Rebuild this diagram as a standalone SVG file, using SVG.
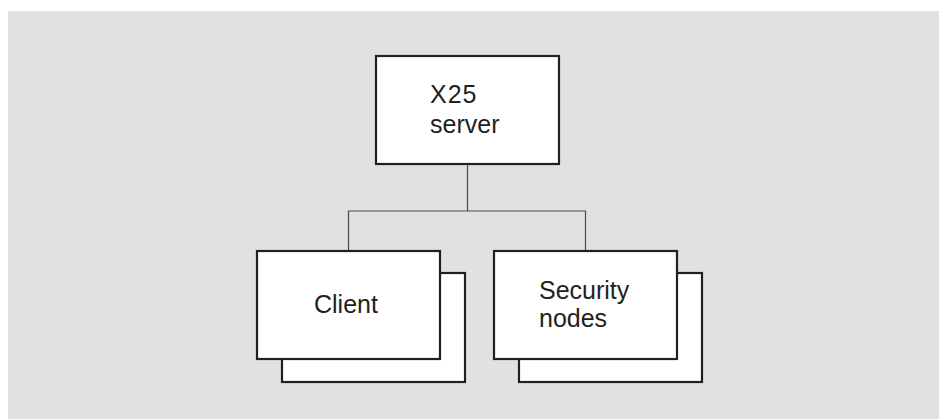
<svg xmlns="http://www.w3.org/2000/svg" width="939" height="419" viewBox="0 0 939 419">
<style>
.box{fill:#fff;stroke:#231f20;stroke-width:2.2}
.conn{fill:none;stroke:#4a4a4a;stroke-width:1.2}
.lbl{font-family:"Liberation Sans",Arial,sans-serif;font-size:25px;fill:#231f20}
</style>
<rect x="8" y="11" width="931" height="408" fill="#e0e1e3"/>
<g id="connectors">
<path class="conn" d="M467.5 164V211M348.5 251V211H585.5V251"/>
</g>
<g id="server">
<rect class="box" x="376" y="56" width="183" height="108"/>
<text class="lbl" x="430" y="103" letter-spacing="1">X25</text>
<text class="lbl" x="430" y="133">server</text>
</g>
<g id="client">
<rect class="box" x="282" y="273" width="183" height="109"/>
<rect class="box" x="257" y="251" width="183" height="108"/>
<text class="lbl" x="314" y="313">Client</text>
</g>
<g id="security">
<rect class="box" x="519" y="273" width="183" height="109"/>
<rect class="box" x="494" y="251" width="183" height="108"/>
<text class="lbl" x="539" y="299">Security</text>
<text class="lbl" x="539" y="327">nodes</text>
</g>
</svg>
